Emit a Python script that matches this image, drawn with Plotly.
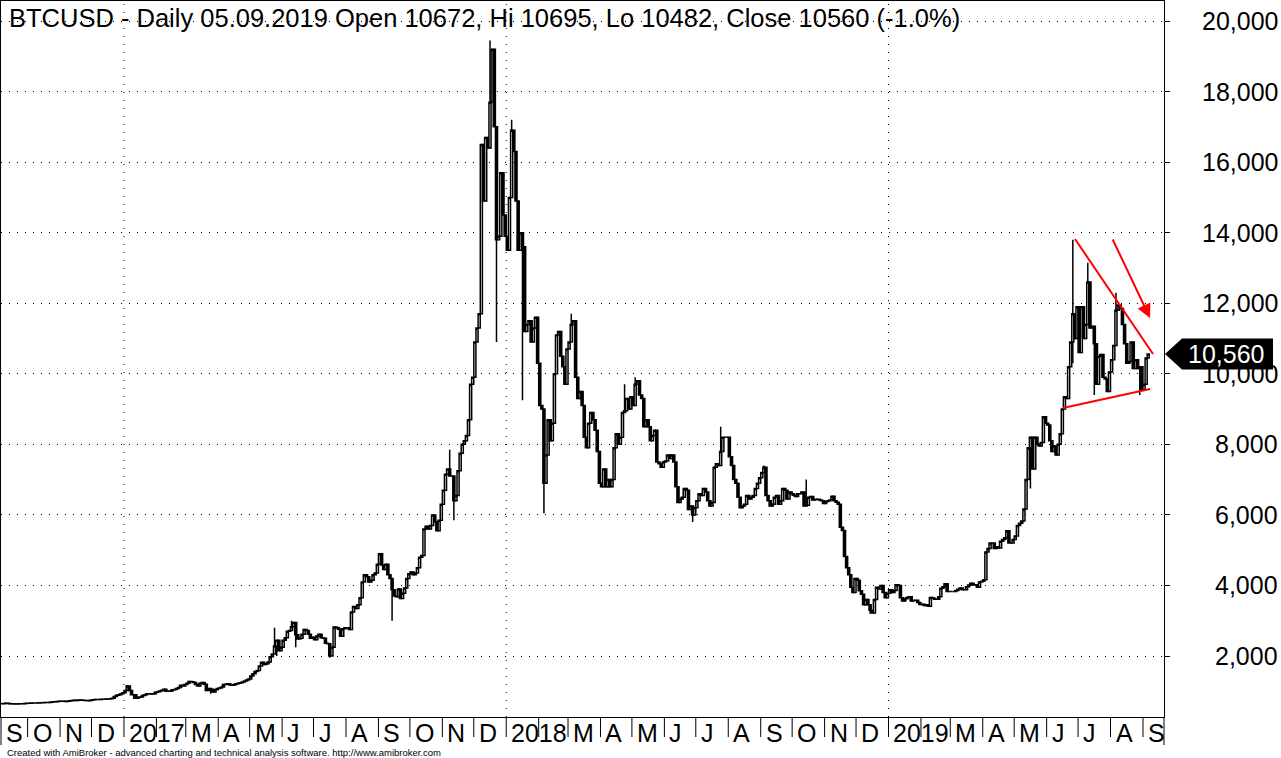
import pandas as pd
import numpy as np
import plotly.graph_objects as go

# ---------------- data ----------------
# Closing prices, roughly every second day, grouped by calendar month.
close_2016 = [
    [650, 655, 660, 655, 650, 645, 640, 640, 645, 650, 650, 655, 660],                         # Sep (from Sep 5)
    [660, 665, 665, 670, 670, 675, 675, 680, 680, 685, 690, 700, 705, 710, 715],               # Oct
    [720, 715, 710, 720, 730, 740, 745, 740, 745, 750, 745, 740, 740, 735, 745],               # Nov
    [760, 765, 770, 770, 775, 775, 780, 780, 790, 800, 850, 890, 900, 930, 960],               # Dec
]
close_2017 = [
    [1020, 1150, 1020, 900, 900, 800, 830, 840, 880, 900, 930, 930, 920, 930, 970],
    [990, 1010, 1030, 1060, 1000, 1000, 1010, 1040, 1050, 1080, 1110, 1170, 1150, 1190],
    [1230, 1280, 1270, 1250, 1190, 1150, 1230, 1250, 1200, 1020, 1080, 1060, 980, 1040, 1080],
    [1090, 1120, 1190, 1200, 1210, 1180, 1170, 1190, 1210, 1230, 1240, 1260, 1290, 1320, 1350],
    [1430, 1500, 1560, 1590, 1720, 1820, 1760, 1780, 1830, 1980, 2060, 2280, 2450, 2150, 2250],
    [2450, 2520, 2700, 2720, 2830, 2950, 2600, 2480, 2500, 2620, 2750, 2720, 2620, 2500, 2530],
    [2460, 2570, 2620, 2520, 2500, 2360, 2350, 2000, 2250, 2820, 2800, 2760, 2560, 2770, 2800],
    [2800, 2750, 3250, 3400, 3350, 3450, 3650, 4100, 4300, 4250, 4100, 4150, 4300, 4350, 4600],
    [4900, 4580, 4450, 4600, 4300, 4200, 3880, 3700, 3680, 3900, 3630, 3780, 3930, 4200, 4330],
    [4380, 4300, 4350, 4500, 4800, 4850, 5600, 5680, 5600, 5700, 6000, 5800, 5550, 5850, 6300],
    [6700, 7150, 7300, 7100, 7100, 6400, 6550, 7250, 7750, 8000, 8100, 8250, 8700, 9700, 9900],
    [10900, 11300, 11700, 16500, 14900, 16700, 16400, 17700, 19200, 17000, 13800, 13900, 15700, 14500, 13900],
]
close_2018 = [
    [13500, 15000, 16900, 16300, 14900, 13500, 14000, 13600, 11200, 11400, 11500, 10900, 11300, 11600, 10300],
    [9100, 9000, 6900, 7700, 8700, 8100, 8600, 10000, 11100, 11200, 10500, 10200, 9700, 10700],
    [10900, 11400, 11500, 9900, 9300, 9500, 9100, 8200, 7900, 8600, 8900, 8700, 8400, 7800, 6900],
    [6800, 7300, 6800, 7000, 6800, 7000, 7900, 8300, 8000, 8200, 8900, 8950, 9300, 9000, 9350],
    [9100, 9700, 9800, 9400, 9300, 8500, 8700, 8500, 8100, 8250, 8400, 7500, 7450, 7350, 7500],
    [7530, 7700, 7600, 7700, 7500, 6800, 6350, 6450, 6500, 6750, 6700, 6150, 6250, 6000, 6200],
    [6400, 6600, 6550, 6750, 6650, 6400, 6250, 6350, 7350, 7450, 7400, 7800, 8200, 8200, 8200],
    [7650, 7400, 7000, 6900, 6500, 6200, 6250, 6300, 6550, 6450, 6500, 6550, 6750, 6900, 7050],
    [7200, 7350, 6550, 6400, 6250, 6300, 6500, 6550, 6300, 6400, 6750, 6700, 6450, 6650, 6600],
    [6560, 6520, 6600, 6600, 6650, 6250, 6270, 6500, 6520, 6420, 6440, 6440, 6420, 6400, 6320],
    [6380, 6400, 6420, 6530, 6400, 6360, 6300, 5650, 5560, 4820, 4500, 4300, 3950, 3800, 4200],
    [4150, 3850, 3750, 3450, 3600, 3450, 3300, 3220, 3600, 3950, 3900, 4000, 3800, 3650, 3780],
]
close_2019 = [
    [3880, 3800, 3860, 4020, 4000, 3650, 3560, 3620, 3660, 3680, 3560, 3580, 3580, 3520, 3460],
    [3470, 3430, 3450, 3410, 3660, 3640, 3610, 3610, 3680, 3920, 3960, 4050, 3830, 3830],
    [3830, 3830, 3860, 3890, 3930, 3880, 3880, 3960, 4010, 4060, 4010, 4020, 3950, 4100, 4120],
    [4160, 4950, 5050, 5200, 5200, 5050, 5100, 5060, 5250, 5300, 5350, 5550, 5200, 5200, 5300],
    [5400, 5700, 5760, 5830, 6170, 7000, 7900, 8200, 7300, 8200, 8000, 7950, 8050, 8780, 8600],
    [8550, 8100, 7800, 7950, 7700, 8000, 8300, 9000, 9350, 9300, 10200, 10900, 11700, 11000, 11900],
    [10600, 11900, 11000, 11400, 12600, 11300, 11350, 10850, 9700, 10500, 10550, 9900, 9850, 9500, 10050],
    [10400, 10800, 11800, 11950, 11850, 11400, 10850, 10300, 10350, 10900, 10150, 10400, 10150, 10200, 9550],
    [9700, 10450, 10560],                                                                        # Sep (to Sep 5)
]
first_span_start = "2016-09-05"
last_span_end = "2019-09-07"

# Notable intraday extremes (wicks)
wick_high_dates = ["2017-01-04", "2017-05-25", "2017-06-11", "2017-11-08", "2017-12-17", "2018-01-06",
                   "2018-03-05", "2018-04-24", "2018-05-05", "2018-07-25", "2018-09-04", "2018-10-15",
                   "2019-06-26", "2019-07-10", "2019-08-06"]
wick_high_values = [1180, 2800, 3000, 7850, 19450, 17200, 11700, 9700, 9900, 8500, 7400, 7000,
                    13800, 13150, 12300]
wick_low_dates = ["2017-01-11", "2017-03-24", "2017-05-27", "2017-06-15", "2017-07-16", "2017-09-15",
                  "2017-11-12", "2017-11-29", "2017-12-22", "2018-01-17", "2018-02-06", "2018-06-28",
                  "2018-12-15", "2019-05-17", "2019-06-27", "2019-07-17", "2019-08-29"]
wick_low_values = [780, 930, 2000, 2250, 1950, 3000, 5850, 9100, 10900, 9250, 6050, 5800,
                   3200, 6750, 10300, 9400, 9400]

month_labels = ["S", "O", "N", "D",
                "2017", "", "M", "A", "M", "J", "J", "A", "S", "O", "N", "D",
                "2018", "", "M", "A", "M", "J", "J", "A", "S", "O", "N", "D",
                "2019", "", "M", "A", "M", "J", "J", "A", "S"]
year_starts = ["2017-01-01", "2018-01-01", "2019-01-01"]

price_ticks = [2000, 4000, 6000, 8000, 10000, 12000, 14000, 16000, 18000, 20000]
price_tick_labels = ["2,000", "4,000", "6,000", "8,000", "10,000", "12,000", "14,000", "16,000",
                     "18,000", "20,000"]

title_text = "BTCUSD - Daily 05.09.2019 Open 10672, Hi 10695, Lo 10482, Close 10560 (-1.0%)"
last_price = 10560
last_price_label = "10,560"

# trend-line annotations (date, price)
upper_line = [("2019-06-28 02:00", 13820), ("2019-09-10 14:00", 10560)]
lower_line = [("2019-06-16 14:00", 9030), ("2019-09-07 17:00", 9570)]
arrow_line = [("2019-08-02 10:00", 13850), ("2019-09-07 17:00", 11580)]

# ---------------- build bars ----------------
months = pd.period_range("2016-09", "2019-09", freq="M")
all_months = close_2016 + close_2017 + close_2018 + close_2019
dates, closes = [], []
for k, (per, vals) in enumerate(zip(months, all_months)):
    start = per.start_time
    end = (per + 1).start_time
    if k == 0:
        start = pd.Timestamp(first_span_start)
    if k == len(months) - 1:
        end = pd.Timestamp(last_span_end)
    step = (end - start) / len(vals)
    for i, v in enumerate(vals):
        dates.append(start + step * (i + 0.5))
        closes.append(v)

dates = pd.DatetimeIndex(dates)
closes = np.array(closes, dtype=float)
opens = np.concatenate([[closes[0]], closes[:-1]])
highs = np.maximum(opens, closes)
lows = np.minimum(opens, closes)
for d, v in zip(wick_high_dates, wick_high_values):
    idx = int(np.argmin(np.abs(dates - pd.Timestamp(d))))
    highs[idx] = max(highs[idx], v)
for d, v in zip(wick_low_dates, wick_low_values):
    idx = int(np.argmin(np.abs(dates - pd.Timestamp(d))))
    lows[idx] = min(lows[idx], v)

# ---------------- figure ----------------
W, H = 1281, 758
ML, MR, MT, MB = 1, 117, 1, 41
plot_h = H - MT - MB
origin = pd.Timestamp("2016-09-01")
x_start = origin + pd.Timedelta(days=4.583)
x_end = origin + pd.Timedelta(days=1115.06)
y_range = [270.9, 20566.9]

FONT = "Arial, Liberation Sans, sans-serif"

fig = go.Figure()
fig.add_trace(go.Candlestick(
    x=dates, open=opens, high=highs, low=lows, close=closes,
    increasing=dict(line=dict(color="black", width=1.5), fillcolor="white"),
    decreasing=dict(line=dict(color="black", width=1.5), fillcolor="black"),
    whiskerwidth=0, hoverinfo="skip", showlegend=False,
))

fig.update_layout(
    width=W, height=H,
    margin=dict(l=ML, r=MR, t=MT, b=MB, pad=0),
    paper_bgcolor="white", plot_bgcolor="white",
    boxgap=0, boxgroupgap=0,
    showlegend=False,
    font=dict(family=FONT, color="black"),
)
fig.update_xaxes(
    type="date", range=[x_start, x_end], showgrid=False, showticklabels=False, ticks="",
    showline=True, linecolor="black", linewidth=1, mirror=True, zeroline=False,
    rangeslider=dict(visible=False),
)
fig.update_yaxes(
    side="right", range=y_range, tickvals=price_ticks, showticklabels=False,
    ticks="outside", ticklen=5, tickcolor="black", tickwidth=1,
    showgrid=True, gridcolor="black", gridwidth=1, griddash="1px,7px",
    showline=True, linecolor="black", linewidth=1, mirror=True, zeroline=False,
)

shapes = []
# yearly dotted verticals
for ys in year_starts:
    shapes.append(dict(type="line", xref="x", yref="paper", x0=ys, x1=ys, y0=0, y1=1,
                       line=dict(color="black", width=1, dash="1px,7px"), layer="below"))
# month separators under the axis
sep_h = 20 / plot_h
span = (x_end - x_start)
for per in months:
    t = per.start_time
    if t <= x_start:
        continue
    xp = (t - x_start) / span
    shapes.append(dict(type="line", xref="paper", yref="paper", x0=xp, x1=xp, y0=0, y1=-sep_h,
                       line=dict(color="black", width=1)))
# borders extending below the plot
ext = 28 / plot_h
for xp in (0, 1):
    shapes.append(dict(type="line", xref="paper", yref="paper", x0=xp, x1=xp, y0=0, y1=-ext,
                       line=dict(color="black", width=1)))
# red trend lines
for ln in (upper_line, lower_line):
    shapes.append(dict(type="line", xref="x", yref="y", x0=ln[0][0], y0=ln[0][1],
                       x1=ln[1][0], y1=ln[1][1], line=dict(color="#ff0000", width=2)))
# last price tag
shapes.append(dict(type="path", xref="paper", yref="y", xsizemode="pixel", ysizemode="pixel",
                   xanchor=1, yanchor=last_price,
                   path="M 1,0 L 18,15.5 L 109,15.5 L 109,-15.5 L 18,-15.5 Z",
                   fillcolor="black", line=dict(color="black", width=0)))
fig.update_layout(shapes=shapes)

ann = []
ann.append(dict(text=title_text, xref="paper", yref="paper", x=0, y=1, xanchor="left", yanchor="top",
                xshift=6, yshift=-1, showarrow=False, font=dict(size=25.5, color="black", family=FONT)))
for v, lab in zip(price_ticks, price_tick_labels):
    ann.append(dict(text=lab, xref="paper", yref="y", x=1, y=v, xanchor="right", yanchor="middle",
                    xshift=116, showarrow=False, font=dict(size=25, color="black", family=FONT)))
ann.append(dict(text=last_price_label, xref="paper", yref="y", x=1, y=last_price, xanchor="center",
                yanchor="middle", xshift=62, showarrow=False,
                font=dict(size=25, color="white", family=FONT)))
for per, lab in zip(months, month_labels):
    if not lab:
        continue
    t = max(per.start_time, x_start)
    xp = (t - x_start) / span
    ann.append(dict(text=lab, xref="paper", yref="paper", x=xp, y=0, xanchor="left", yanchor="top",
                    xshift=3, yshift=0, showarrow=False, font=dict(size=25, color="black", family=FONT)))
ann.append(dict(text="Created with AmiBroker - advanced charting and technical analysis software. http://www.amibroker.com",
                xref="paper", yref="paper", x=0, y=0, xanchor="left", yanchor="middle", xshift=4, yshift=-35,
                showarrow=False, font=dict(size=9.5, color="black", family=FONT)))
# red arrow
ann.append(dict(text="", x=arrow_line[1][0], y=arrow_line[1][1], xref="x", yref="y",
                ax=arrow_line[0][0], ay=arrow_line[0][1], axref="x", ayref="y",
                showarrow=True, arrowhead=2, arrowsize=1.4, arrowwidth=2, arrowcolor="#ff0000",
                standoff=0))
fig.update_layout(annotations=ann)

fig.write_html("out.html")
